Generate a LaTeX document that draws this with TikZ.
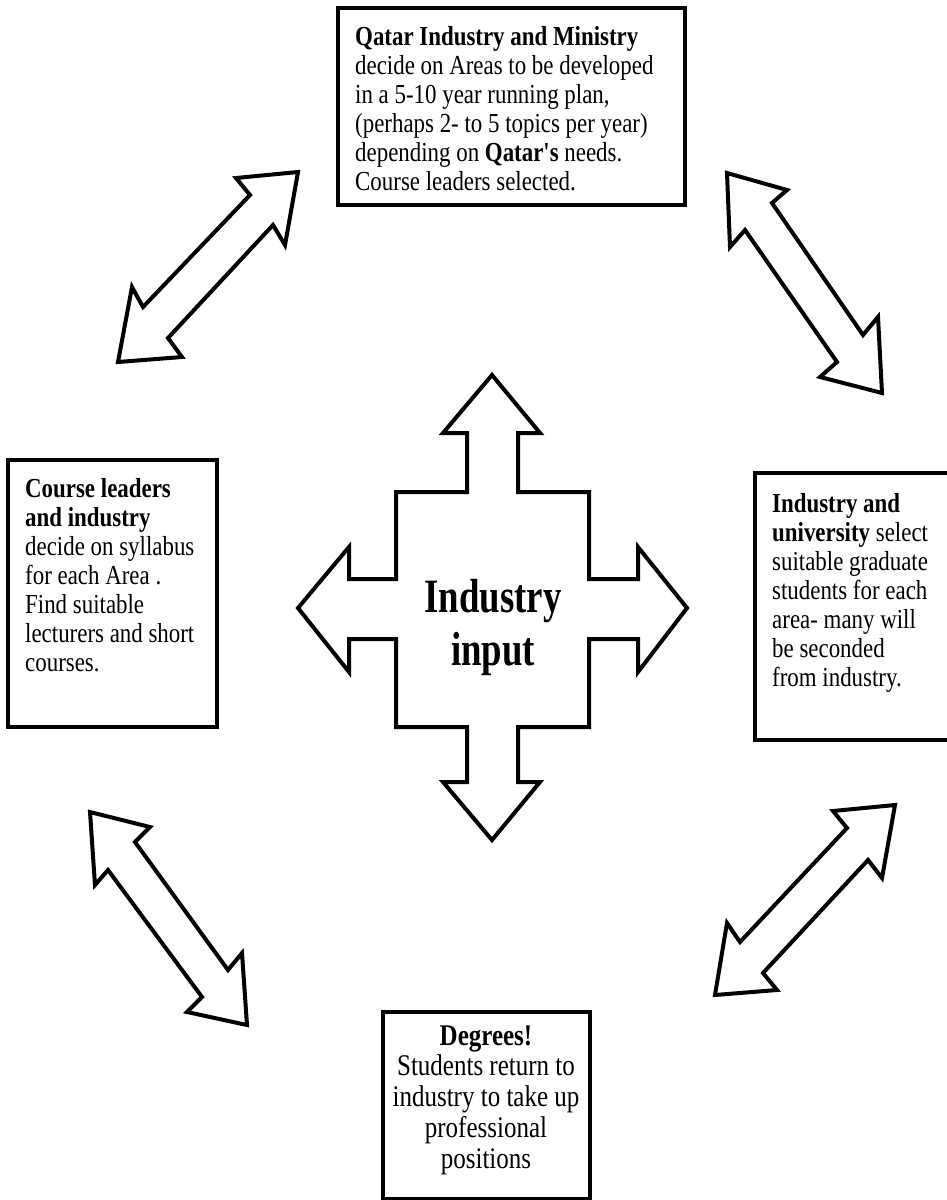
\documentclass[tikz,border=0pt]{standalone}
\usepackage{fontspec}
\setmainfont{Liberation Serif}
\usepackage{graphicx}

% text is printed a little taller than wide in the scan
\newcommand{\tallbox}[2]{\scalebox{1}[#1]{#2}}
\newcommand{\boxlines}[1]{\tallbox{1.2}{\fontsize{22.9}{24.2}\selectfont
  \begin{tabular}[t]{@{}l@{}}#1\end{tabular}}}

\begin{document}
\begin{tikzpicture}[x=1pt,y=-1pt,
    boxline/.style={line width=3.5pt},
    blockarrow/.style={line width=4pt, line join=miter, fill=white},
    boxtext/.style={inner sep=0pt, anchor=base west}]
    \useasboundingbox (0,0) rectangle (947,1200);
    \clip (0,0) rectangle (947,1200);

    % Draw the four boxes
    \draw[boxline] (338,8) rectangle (685,205);
    \draw[boxline] (8,460) rectangle (217,727);
    \draw[boxline] (755,473) rectangle (952,740);
    \draw[boxline] (383,1012) rectangle (590,1199);

    % Texts in the boxes
    \node[boxtext] (plan) at (355,45) {\boxlines{\textbf{Qatar Industry and Ministry}\\
        decide on Areas to be developed\\
        in a 5-10 year running plan,\\
        (perhaps 2- to 5 topics per year)\\
        depending on \textbf{Qatar\textquotesingle s} needs.\\
        Course leaders selected.}};
    \node[boxtext] (syllabus) at (25,497) {\boxlines{\textbf{Course leaders}\\
        \textbf{and industry}\\
        decide on syllabus\\
        for each Area .\\
        Find suitable\\
        lecturers and short\\
        courses.}};
    \node[boxtext] (students) at (772,512) {\boxlines{\textbf{Industry and}\\
        \textbf{university} select\\
        suitable graduate\\
        students for each\\
        area- many will\\
        be seconded\\
        from industry.}};
    \node[inner sep=0pt, anchor=base] (degrees) at (486,1045) {\tallbox{1.2}{\fontsize{25}{25.8}\selectfont
        \begin{tabular}[t]{@{}c@{}}\textbf{Degrees!}\\ Students return to\\
        industry to take up\\ professional\\ positions\end{tabular}}};

    % Draw the cross of four arrows in the middle
    \draw[blockarrow] (492,375) -- (540,433) -- (518,433) -- (518,492) -- (589,492)
        -- (589,579) -- (638,579) -- (638,547) -- (687,608) -- (638,672) -- (638,639)
        -- (589,639) -- (589,727) -- (518,727) -- (518,782) -- (540,782) -- (492,840)
        -- (443,782) -- (467,782) -- (467,727) -- (396,727) -- (396,639) -- (349,639)
        -- (349,672) -- (298,608) -- (349,547) -- (349,579) -- (396,579) -- (396,492)
        -- (467,492) -- (467,433) -- (443,433) -- cycle;
    \node[inner sep=0pt, anchor=base] (input) at (493,612) {\tallbox{1.3}{\fontsize{36.8}{40.8}\selectfont\bfseries
        \begin{tabular}[t]{@{}c@{}}Industry\\ input\end{tabular}}};

    % Draw the double arrows between the boxes
    \draw[blockarrow] (298,172) -- (236,178) -- (250,195) -- (143,307) -- (132,287)
        -- (118,362) -- (182,357) -- (168,338) -- (273,225) -- (285,245) -- cycle;
    \draw[blockarrow] (727,173) -- (787,190) -- (772,203) -- (863,335) -- (878,317)
        -- (882,393) -- (820,377) -- (837,362) -- (745,230) -- (730,247) -- cycle;
    \draw[blockarrow] (90,812) -- (150,827) -- (135,842) -- (228,970) -- (242,953)
        -- (247,1025) -- (187,1012) -- (202,997) -- (108,870) -- (95,885) -- cycle;
    \draw[blockarrow] (895,805) -- (833,811) -- (847,828) -- (740,942) -- (727,923)
        -- (715,995) -- (777,990) -- (763,973) -- (868,860) -- (882,878) -- cycle;

\end{tikzpicture}
\end{document}
